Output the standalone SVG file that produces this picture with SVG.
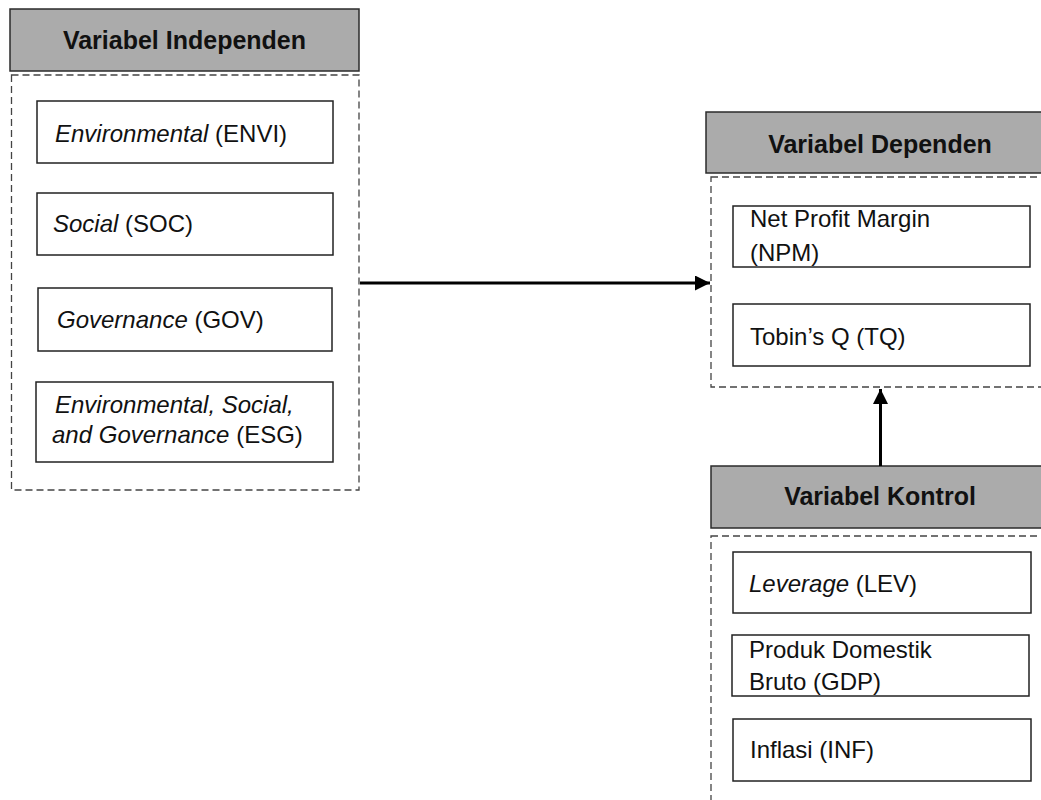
<svg xmlns="http://www.w3.org/2000/svg" width="1041" height="800" viewBox="0 0 1041 800">
<defs>
<style>
.hdr{fill:#ababab;stroke:#2b2b2b;stroke-width:1.5}
.cont{fill:none;stroke:#444;stroke-width:1.3;stroke-dasharray:7 4}
.box{fill:#fff;stroke:#222;stroke-width:1.5}
.ht{font-family:"Liberation Sans",Arial,sans-serif;font-weight:bold;font-size:25px;fill:#111;text-anchor:middle}
.t{font-family:"Liberation Sans",Arial,sans-serif;font-size:24px;fill:#111}
.conn{stroke:#000;stroke-width:3;fill:none}
</style>
<marker id="ah" viewBox="0 0 10 10" refX="10" refY="5" markerWidth="5" markerHeight="5" orient="auto" markerUnits="strokeWidth">
<path d="M0,0 L10,5 L0,10 z" fill="#000"/>
</marker>
</defs>
<rect width="1041" height="800" fill="#fff"/>

<g id="independen">
<rect class="hdr" x="10" y="9" width="349" height="62"/>
<text class="ht" x="184.5" y="49">Variabel Independen</text>
<rect class="cont" x="11.5" y="75" width="347.5" height="415"/>
</g>
<g id="envi">
<rect class="box" x="37" y="101" width="296" height="62"/>
<text class="t" x="55" y="142"><tspan font-style="italic">Environmental</tspan> (ENVI)</text>
</g>
<g id="soc">
<rect class="box" x="37" y="193" width="296" height="62"/>
<text class="t" x="53" y="232"><tspan font-style="italic">Social</tspan> (SOC)</text>
</g>
<g id="gov">
<rect class="box" x="38" y="288" width="294" height="63"/>
<text class="t" x="57" y="328"><tspan font-style="italic">Governance</tspan> (GOV)</text>
</g>
<g id="esg">
<rect class="box" x="36" y="382" width="297" height="80"/>
<text class="t" x="55" y="413" font-style="italic">Environmental, Social,</text>
<text class="t" x="52" y="443"><tspan font-style="italic">and Governance</tspan> (ESG)</text>
</g>

<g id="dependen">
<rect class="hdr" x="706" y="112" width="349" height="61"/>
<text class="ht" x="880" y="153">Variabel Dependen</text>
<rect class="cont" x="711" y="177" width="348" height="210"/>
</g>
<g id="npm">
<rect class="box" x="733" y="206" width="297" height="61"/>
<text class="t" x="750" y="227">Net Profit Margin</text>
<text class="t" x="750" y="261">(NPM)</text>
</g>
<g id="tq">
<rect class="box" x="733" y="304" width="297" height="62"/>
<text class="t" x="750" y="345">Tobin’s Q (TQ)</text>
</g>

<g id="kontrol">
<rect class="hdr" x="711" y="466" width="345" height="62"/>
<text class="ht" x="880" y="505">Variabel Kontrol</text>
<rect class="cont" x="711" y="536" width="348" height="280"/>
</g>
<g id="lev">
<rect class="box" x="733" y="552" width="298" height="61"/>
<text class="t" x="749" y="592"><tspan font-style="italic">Leverage</tspan> (LEV)</text>
</g>
<g id="gdp">
<rect class="box" x="732" y="635" width="297" height="61"/>
<text class="t" x="749" y="658">Produk Domestik</text>
<text class="t" x="749" y="690">Bruto (GDP)</text>
</g>
<g id="inf">
<rect class="box" x="733" y="719" width="298" height="62"/>
<text class="t" x="750" y="758">Inflasi (INF)</text>
</g>

<g id="connectors">
<line class="conn" x1="360" y1="283" x2="710" y2="283" marker-end="url(#ah)"/>
<line class="conn" x1="880.5" y1="466" x2="880.5" y2="389" marker-end="url(#ah)"/>
</g>
</svg>
